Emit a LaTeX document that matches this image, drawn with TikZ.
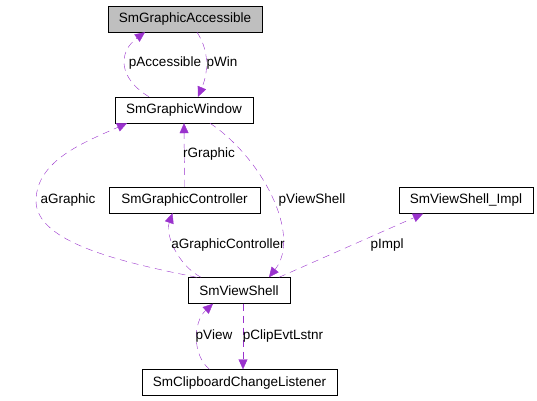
\documentclass[tikz,border=0pt]{standalone}
\usepackage{fontspec}
\setmainfont{Liberation Sans}
\usetikzlibrary{arrows.meta}
\definecolor{usecol}{HTML}{9A32CD}
\definecolor{boxgray}{HTML}{BFBFBF}

\begin{document}
\begin{tikzpicture}[x=1pt, y=-1pt,
  cls/.style={draw, minimum height=26pt, inner sep=0pt, font=\fontsize{13.5}{15}\selectfont},
  use/.style={draw=usecol, dashed, dash pattern=on 7pt off 5pt, -{Triangle[length=10pt,width=9pt]}, fill=none},
  lbl/.style={font=\fontsize{13.5}{15}\selectfont, inner sep=0pt}]
\useasboundingbox (0,0) rectangle (537,400);

\node[cls, fill=boxgray, minimum width=154pt] (acc) at (185,19) {SmGraphicAccessible};
\node[cls, minimum width=138pt] (win) at (184,110) {SmGraphicWindow};
\node[cls, minimum width=151pt] (ctrl) at (184.5,200) {SmGraphicController};
\node[cls, minimum width=134pt] (impl) at (466,200.5) {SmViewShell\_Impl};
\node[cls, minimum width=102pt] (vs) at (239,290.5) {SmViewShell};
\node[cls, minimum width=195pt] (clip) at (239.5,382.5) {SmClipboardChangeListener};

% window <-> accessible
\draw[use] ([xshift=-35pt]win.north) .. controls (118,78) and (118,52) .. ([xshift=-40pt]acc.south);
\draw[use] ([xshift=12pt]acc.south) .. controls (212,55) and (206,78) .. ([xshift=14pt]win.north);
\node[lbl] (lacc) at (165,63) {pAccessible};
\node[lbl] (lwin) at (222,63) {pWin};

% controller -> window
\draw[use] (ctrl.north) -- (win.south);
\node[lbl, anchor=west] (lrg) at (183,154) {rGraphic};

% view shell -> window, controller
\draw[use] ([xshift=-42pt]vs.north) .. controls (120,262) and (35,242) .. (36,200)
  .. controls (37,160) and (85,142) .. ([xshift=-57pt]win.south);
\node[lbl] (lag) at (68,200) {aGraphic};
\draw[use] ([xshift=-38pt]vs.north) .. controls (178,265) and (165,235) .. ([xshift=-12pt]ctrl.south);
\node[lbl] (lagc) at (228,245) {aGraphicController};

% window -> view shell
\draw[use] ([xshift=26pt]win.south) .. controls (262,158) and (302,235) .. ([xshift=30pt]vs.north);
\node[lbl] (lvs) at (312,200) {pViewShell};

% view shell -> impl
\draw[use] ([xshift=40pt]vs.north) -- ([xshift=-43pt]impl.south);
\node[lbl] (limp) at (387,245) {pImpl};

% view shell <-> clipboard listener
\draw[use] ([xshift=-30pt]clip.north) .. controls (192,355) and (193,322) .. ([xshift=-26pt]vs.south);
\draw[use] ([xshift=4pt]vs.south) -- ([xshift=3.5pt]clip.north);
\node[lbl] (lview) at (214,336) {pView};
\node[lbl] (lclip) at (283,336) {pClipEvtLstnr};

\end{tikzpicture}
\end{document}
